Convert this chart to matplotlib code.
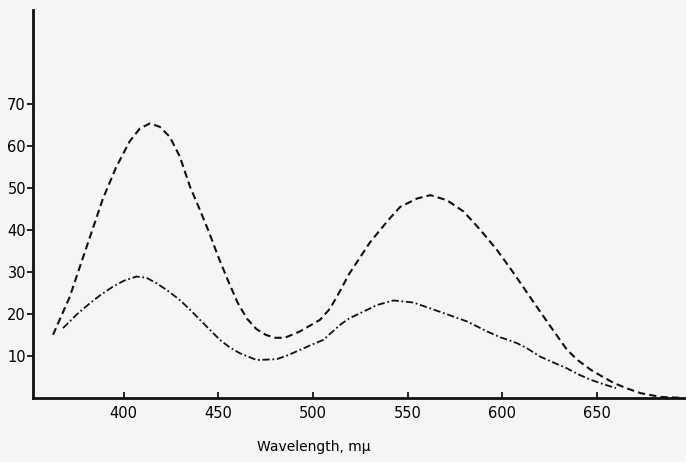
import matplotlib.pyplot as plt

# upper band (dashed)
wl_dash = [362.6, 367, 371.4, 377, 383, 389, 396, 403.2, 408.5, 413.8,
           419, 424.3, 429.6, 435, 440, 445, 450, 455, 460, 465, 470, 475,
           480, 485, 493, 503.7, 509, 514.3, 519, 525, 530, 535.4, 541, 546,
           554.9, 562, 570.7, 579.5, 588.4, 597.2, 606, 615.7, 625.4, 634.2,
           640, 646.6, 653, 659, 666, 673, 683.6, 694]
a_dash = [15, 19.5, 24, 31.5, 39.5, 47.5, 55, 61.2, 64.2, 65.4,
          64.6, 62.2, 57.5, 50.3, 45, 39.5, 33.5, 28, 22.8, 18.9, 16.4, 15,
          14.3, 14.3, 15.8, 18.6, 21.3, 25.5, 29.5, 33.6, 37, 40, 43, 45.5,
          47.5, 48.3, 47.1, 44.4, 40, 35.2, 29.7, 23.3, 17, 11.4,
          8.9, 6.7, 5, 3.5, 2.2, 1.1, 0.2, 0]

# lower band (dash-dot)
wl_dd = [367.9, 375, 382, 388, 394.3, 400, 406.7, 412, 417.3, 423, 429.6,
         435, 440.2, 445.5, 450.8, 456, 461.4, 470.2, 480.8, 487, 493, 499,
         505.4, 514.3, 519, 525, 533.7, 542.5, 553, 567, 581.3, 592, 599,
         603, 607.8, 613, 620, 627, 634.2, 640, 646.6, 653, 660]
a_dd = [16.6, 19.8, 22.5, 24.6, 26.5, 27.9, 28.9, 28.6, 27.3, 25.6, 23.3,
        21, 18.6, 16.2, 13.8, 12, 10.6, 9, 9.2, 10.2, 11.4, 12.6,
        13.8, 17.4, 18.9, 20.2, 22.1, 23.2, 22.7, 20.5, 18.2, 15.8, 14.4,
        13.8, 13, 11.8, 9.8, 8.4, 7, 5.6, 4.3, 3.3, 2.3]

xticks = [400, 450, 500, 550, 600, 650]
yticks = [10, 20, 30, 40, 50, 60, 70]

fig = plt.figure(figsize=(6.86, 4.62), dpi=100)
fig.patch.set_facecolor('#f5f5f3')
ax = fig.add_axes([0.048, 0.139, 0.952, 0.839])
ax.set_facecolor('#f5f5f3')

ax.plot(wl_dash, a_dash, color='#111111', lw=1.5, ls=(0, (3.5, 2)))
ax.plot(wl_dd, a_dd, color='#111111', lw=1.3, ls=(0, (4, 1.5, 1, 1.5)))

ax.set_xlim(352, 697)
ax.set_ylim(0, 92.4)
ax.set_xticks(xticks)
ax.set_yticks(yticks)
ax.tick_params(axis='both', labelsize=10.5, length=4, width=1.2, pad=1)
ax.tick_params(axis='x', direction='in', pad=6)

for s in ['top', 'right']:
    ax.spines[s].set_visible(False)
for s in ['left', 'bottom']:
    ax.spines[s].set_linewidth(2)
    ax.spines[s].set_color('#111111')

ax.set_xlabel('Wavelength, m\u03bc', fontsize=10, labelpad=10)
ax.xaxis.set_label_coords(0.43, -0.11)

fig.savefig('out.png', dpi=100, facecolor=fig.get_facecolor())
